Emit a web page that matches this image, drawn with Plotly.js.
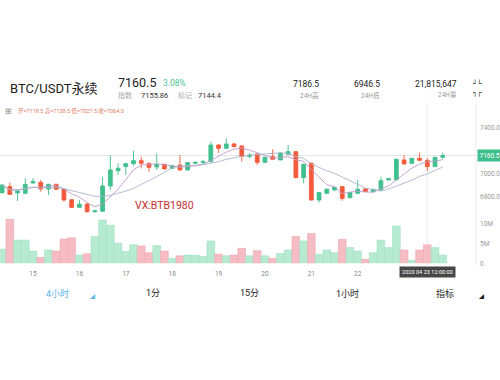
<!DOCTYPE html>
<html><head><meta charset="utf-8">
<script src="https://cdn.plot.ly/plotly-3.0.1.min.js"></script>
<style>html,body{margin:0;padding:0;background:#fff}#c{width:500px;height:380px}</style>
</head><body><div id="c"></div>
<script>
const times = [
'2020-04-14 08:00','2020-04-14 12:00','2020-04-14 16:00','2020-04-14 20:00',
'2020-04-15 00:00','2020-04-15 04:00','2020-04-15 08:00','2020-04-15 12:00','2020-04-15 16:00','2020-04-15 20:00',
'2020-04-16 00:00','2020-04-16 04:00','2020-04-16 08:00','2020-04-16 12:00','2020-04-16 16:00','2020-04-16 20:00',
'2020-04-17 00:00','2020-04-17 04:00','2020-04-17 08:00','2020-04-17 12:00','2020-04-17 16:00','2020-04-17 20:00',
'2020-04-18 00:00','2020-04-18 04:00','2020-04-18 08:00','2020-04-18 12:00','2020-04-18 16:00','2020-04-18 20:00',
'2020-04-19 00:00','2020-04-19 04:00','2020-04-19 08:00','2020-04-19 12:00','2020-04-19 16:00','2020-04-19 20:00',
'2020-04-20 00:00','2020-04-20 04:00','2020-04-20 08:00','2020-04-20 12:00','2020-04-20 16:00','2020-04-20 20:00',
'2020-04-21 00:00','2020-04-21 04:00','2020-04-21 08:00','2020-04-21 12:00','2020-04-21 16:00','2020-04-21 20:00',
'2020-04-22 00:00','2020-04-22 04:00','2020-04-22 08:00','2020-04-22 12:00','2020-04-22 16:00','2020-04-22 20:00',
'2020-04-23 00:00','2020-04-23 04:00','2020-04-23 08:00','2020-04-23 12:00','2020-04-23 16:00','2020-04-23 20:00'];

const openP = [6837,6890,6835,6832, 6922,6928,6870,6910,6867,6776, 6710,6739,6672,6676,6896,7029,
 7064,7090,7116,7093,7061,7084, 7049,7078,7035,7093,7099,7107, 7252,7223,7261,7244,7151,7174,
 7101,7151,7122,7171,7194,6968, 7093,6774,6832,6861,6890,6794, 6832,6870,6846,6861,6948,6950,
 7122,7093,7136,7118.5,7064,7145];
const highP = [6912,6924,6867,6963, 6963,6948,6915,6914,6870,6782, 6774,6745,6688,6977,7165,7093,
 7095,7203,7151,7096,7180,7088, 7078,7165,7102,7110,7122,7281, 7258,7310,7272,7250,7180,7180,
 7150,7215,7190,7252,7200,7090, 7100,6845,6872,6890,6896,6845, 6948,6875,6870,6977,6962,7133,
 7165,7140,7186.5,7138.5,7150,7186];
const lowP = [6830,6818,6765,6828, 6918,6846,6817,6862,6759,6705, 6705,6665,6662,6668,6861,6991,
 6991,7072,7049,7020,7035,7040, 7045,7030,7030,7087,7090,7100, 7180,7220,7232,7107,7140,7078,
 7095,7125,7118,7168,6965,6919, 6770,6751,6828,6855,6768,6788, 6828,6843,6840,6858,6945,6946.5,
 7084,7090,7114,7027.5,7060,7128];
const closeP = [6904,6823,6852,6910, 6935,6870,6910,6867,6774,6710, 6737,6672,6680,6896,7035,7050,
 7090,7116,7093,7058,7084,7044, 7072,7035,7099,7101,7107,7252, 7223,7261,7238,7151,7165,7101,
 7145,7128,7180,7194,6968,7084, 6774,6838,6867,6884,6788,6838, 6867,6846,6867,6942,6959,7128,
 7087,7136,7118.5,7064.0,7145,7160.5];
const volumeM = [3.6,11.2,5.9,5.9, 3.1,1.5,3.4,3.1,6.2,6.5, 2.1,2.4,6.8,11.0,9.7,5.1,
 3.0,4.7,4.4,2.7,4.5,3.1, 1.3,1.9,2.1,2.1,1.7,5.7, 2.3,1.9,2.1,3.8,1.9,3.2,
 1.9,1.3,2.5,3.4,6.8,5.7, 7.6,2.3,3.4,2.7,6.1,4.0, 3.1,1.0,2.7,5.9,4.0,9.5,
 3.4,0.8,3.4,4.7,4.0,2.1];
const dayTicks = ['2020-04-15','2020-04-16','2020-04-17','2020-04-18','2020-04-19','2020-04-20','2020-04-21','2020-04-22'];
const dayTickText = ['15','16','17','18','19','20','21','22'];
const priceTicks = [6800, 7000, 7400];
const priceTickText = ['6800.0','7000.0','7400.0'];
const volTicks = [0, 5, 10];
const volTickText = ['0','5M','10M'];

function ma(arr, n){
  return arr.map((v,i)=>{const s=arr.slice(Math.max(0,i-n+1), i+1); return s.reduce((a,b)=>a+b,0)/s.length;});
}
const UP='#3fc08d', DN='#f35a3b', VUP='#b6ead1', VDN='#f6bcc4';
const volColors = closeP.map((c,i)=> c>=openP[i] ? VUP : VDN);
const volLine = closeP.map((c,i)=> c>=openP[i] ? '#a3e2c4' : '#eea7b1');

const W=476, H=380;
const px = x => x/W, py = y => 1 - y/H;
const FF = 'Roboto, "Noto Sans CJK SC", sans-serif';

const traces = [
 {type:'bar', x:times, y:volumeM, xaxis:'x', yaxis:'y2', marker:{color:volColors, line:{color:volLine,width:0.6}}, width:4*3600*1000, hoverinfo:'skip'},
 {type:'candlestick', x:times, open:openP, high:highP, low:lowP, close:closeP, xaxis:'x', yaxis:'y',
  increasing:{line:{color:UP,width:0.9}, fillcolor:UP}, decreasing:{line:{color:DN,width:0.9}, fillcolor:DN}, hoverinfo:'skip'},
 {type:'scatter', mode:'lines', x:times, y:ma(closeP,5), xaxis:'x', yaxis:'y', line:{color:'#bf9ccc', width:0.9}, hoverinfo:'skip'},
 {type:'scatter', mode:'lines', x:times, y:ma(closeP,10), xaxis:'x', yaxis:'y', line:{color:'#aab3cc', width:0.9}, hoverinfo:'skip'}
];

function ann(text, x, y, size, color, xanchor, extra){
  return Object.assign({text:text, xref:'paper', yref:'paper', x:px(x), y:py(y), xanchor:xanchor||'left', yanchor:'middle',
    showarrow:false, font:{family:FF, size:size, color:color}}, extra||{});
}
const annotations = [
 ann('BTC/USDT永续', 8, 88, 13, '#222'),
 ann('7160.5', 116, 82, 12.5, '#222'),
 ann('3.08%', 161, 83, 8.5, '#4fc597'),
 ann('指数', 116, 95, 7, '#aaa'),
 ann('7155.86', 139, 95, 7.5, '#333'),
 ann('标记', 176, 95, 7, '#aaa'),
 ann('7144.4', 196, 95, 7.5, '#333'),
 ann('7186.5', 321, 84, 8.5, '#222', 'right'),
 ann('24H高', 321, 95, 6.5, '#999', 'right'),
 ann('6946.5', 382, 84, 8.5, '#222', 'right'),
 ann('24H低', 382, 95, 6.5, '#999', 'right'),
 ann('21,815,647', 459, 84, 8.5, '#222', 'right'),
 ann('24H量', 459, 95, 6.5, '#999', 'right'),
 {text:'┘└<br>┐┌', xref:'paper', yref:'paper', x:px(470), y:py(88), xanchor:'left', yanchor:'middle', showarrow:false,
  font:{family:'DejaVu Sans Mono', size:7, color:'#222'}},
 ann('⊞', 3, 111, 8, '#888'),
 ann('开=7118.5 高=7138.5 低=7027.5 收=7064.0', 16, 111, 5.5, '#e37b66'),
 ann('VX:BTB1980', 133, 205, 10.5, '#c42e30'),
 ann('4小时', 57, 293, 9, '#5db5e6', 'center'),
 ann('◢', 92, 296, 5, '#5db5e6', 'center'),
 ann('1分', 153, 293, 9, '#222', 'center'),
 ann('15分', 249, 293, 9, '#222', 'center'),
 ann('1小时', 347, 293, 9, '#222', 'center'),
 ann('指标', 445, 293, 9, '#222', 'center'),
 ann('◢', 477, 296, 5, '#222', 'left'),
 {text:'2020 04 23 12:00:00', xref:'x', yref:'paper', x:'2020-04-23 12:00', y:py(272), xanchor:'center', yanchor:'middle',
  showarrow:false, bgcolor:'#474747', borderpad:2, font:{family:FF, size:5.6, color:'#fff'}},
 {text:'7160.5', xref:'paper', yref:'y', x:1, y:7160.5, xanchor:'left', yanchor:'middle', xshift:1,
  showarrow:false, bgcolor:'#3fbf8c', borderpad:1.5, font:{family:FF, size:6.5, color:'#fff'}}
];

const shapes = [
 {type:'line', xref:'paper', yref:'y', x0:0, x1:1, y0:7160.5, y1:7160.5, line:{color:'#e6e6e6', width:1}, layer:'below'},
 {type:'line', xref:'x', yref:'paper', x0:'2020-04-23 12:00', x1:'2020-04-23 12:00', y0:py(103), y1:py(265), line:{color:'#ececec', width:1}, layer:'below'},
 {type:'line', xref:'paper', yref:'paper', x0:1, x1:1, y0:py(103), y1:py(265), line:{color:'#ececec', width:1}, layer:'below'}
];

const layout = {
 width:500, height:380, margin:{l:0, r:24, t:0, b:0}, paper_bgcolor:'#fff', plot_bgcolor:'rgba(0,0,0,0)',
 showlegend:false, hovermode:false, dragmode:false,
 xaxis:{type:'date', anchor:'y2', range:['2020-04-14 06:55','2020-04-24 13:12'], rangeslider:{visible:false},
   tickvals:dayTicks, ticktext:dayTickText, showgrid:false, zeroline:false, showline:false, ticks:'',
   tickfont:{family:FF, size:6.5, color:'#888'}, ticklabelstandoff:5},
 yaxis:{domain:[py(215), py(103)], range:[6643.5, 7617], side:'right', tickvals:priceTicks, ticktext:priceTickText,
   showgrid:false, zeroline:false, showline:false, ticks:'', tickfont:{family:FF, size:6.5, color:'#999'}, ticklabelstandoff:3},
 yaxis2:{domain:[py(263.3), py(218)], range:[0, 11.53], side:'right', tickvals:volTicks, ticktext:volTickText, anchor:'x',
   showgrid:false, zeroline:false, showline:false, ticks:'', tickfont:{family:FF, size:6.5, color:'#999'}, ticklabelstandoff:3},
 bargap:0, annotations:annotations, shapes:shapes
};
Plotly.newPlot('c', traces, layout, {displayModeBar:false, staticPlot:true});
</script></body></html>
